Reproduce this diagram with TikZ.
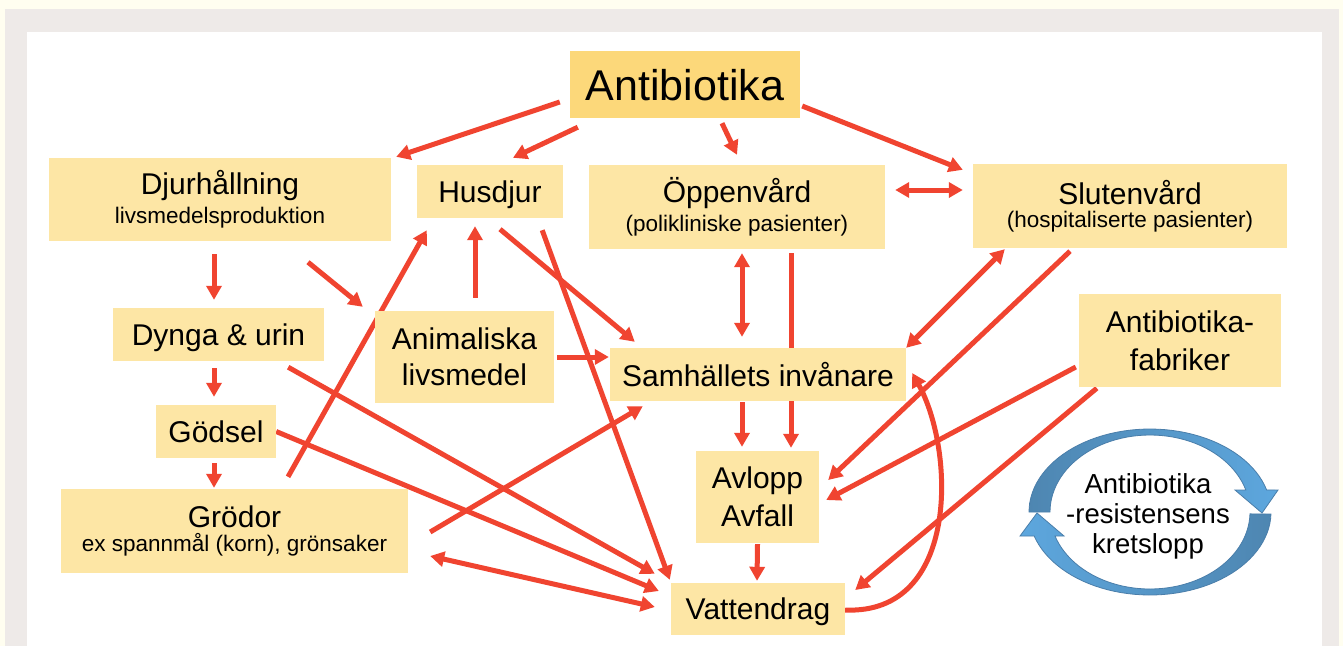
\documentclass[tikz,border=0pt]{standalone}
\usepackage{fontspec}
\setmainfont{Liberation Sans}
\usetikzlibrary{arrows.meta}
\definecolor{creambg}{HTML}{FFFEF0}
\definecolor{framegray}{HTML}{EEEAE8}
\definecolor{boxfill}{HTML}{FDE6A5}
\definecolor{antifill}{HTML}{FCD87A}
\definecolor{arrred}{HTML}{F04430}
\definecolor{cycdark}{HTML}{4E86B1}
\definecolor{cyclight}{HTML}{5DA7DE}
\definecolor{cycline}{HTML}{4A7EAA}
\newcommand\mytitle{\fontsize{30}{36}\selectfont}
\newcommand\mysub{\fontsize{22.5}{28}\selectfont}
\pgfdeclarelayer{bg}
\pgfsetlayers{bg,main}
\begin{document}
\begin{tikzpicture}[x=1pt,y=-1pt,
  box/.style={fill=boxfill, inner sep=0pt, align=center, text=black},
  onebox/.style={box, font=\mytitle, text depth=0pt},
  arr/.style={draw=arrred, line width=5pt, -{Triangle[length=14pt,width=15pt]}},
  darr/.style={arr, {Triangle[length=14pt,width=15pt]}-{Triangle[length=14pt,width=15pt]}},
  cyctext/.style={align=center, font=\fontsize{27.5}{30}\selectfont, inner sep=0pt}]
\useasboundingbox (0,0) rectangle (1343,646);

% nodes
\node[box, fill=antifill, minimum width=230pt, minimum height=67pt, font=\fontsize{43}{50}\selectfont, text depth=0pt] (anti) at (685,84.5) {Antibiotika};
\node[box, minimum width=342pt, minimum height=83pt] (djur) at (220,199.5) {{\mytitle Djurhållning}\\[5pt]{\mysub livsmedelsproduktion}};
\node[onebox, minimum width=146pt, minimum height=53pt] (hus) at (490,191.5) {Husdjur};
\node[box, minimum width=296pt, minimum height=84pt] (oppen) at (737,207) {{\mytitle Öppenvård}\\[5pt]{\mysub (polikliniske pasienter)}};
\node[box, minimum width=314pt, minimum height=84pt] (sluten) at (1130,206) {{\mytitle Slutenvård}\\[5pt]{\mysub (hospitaliserte pasienter)}};
\node[box, minimum width=202pt, minimum height=93pt, font=\fontsize{30}{38}\selectfont] (fabr) at (1180,340.5) {Antibiotika-\\fabriker};
\node[onebox, minimum width=211pt, minimum height=53pt] (dynga) at (218.5,334.5) {Dynga \& urin};
\node[box, minimum width=179pt, minimum height=92pt, font=\fontsize{30}{36}\selectfont] (anim) at (464.5,357) {Animaliska\\livsmedel};
\node[onebox, minimum width=296pt, minimum height=53pt] (samh) at (758,374.5) {Samhällets invånare};
\node[onebox, minimum width=120pt, minimum height=53pt] (godsel) at (216,431.5) {Gödsel};
\node[box, minimum width=347pt, minimum height=84pt] (grodor) at (234.5,531) {{\mytitle Grödor}\\[5pt]{\mysub ex spannmål (korn), grönsaker}};
\node[box, minimum width=123pt, minimum height=92pt, font=\fontsize{30}{38}\selectfont] (avlopp) at (757.5,497) {Avlopp\\Avfall};
\node[onebox, minimum width=174pt, minimum height=52pt] (vatten) at (758,609) {Vattendrag};

% cycle symbol
\shadedraw[left color=cycdark, right color=cyclight, draw=cycline, line width=0.8pt]
  plot[domain=180:15.4, samples=50] ({1150+121*cos(\x)},{512-83*sin(\x)})
  -- (1278,490) -- (1262,513) -- (1235,490)
  -- plot[domain=16.6:180, samples=50] ({1150+100*cos(\x)},{512-77*sin(\x)}) -- cycle;
\shadedraw[left color=cyclight, right color=cycdark, draw=cycline, line width=0.8pt]
  plot[domain=-1.4:-163.2, samples=50] ({1150+121*cos(\x)},{512-83*sin(\x)})
  -- (1020,536) -- (1037,513) -- (1064,536)
  -- plot[domain=-161.8:-1.4, samples=50] ({1150+100*cos(\x)},{512-77*sin(\x)}) -- cycle;
\node[cyctext] (cyc) at (1148,516) {Antibiotika\\-resistensens\\kretslopp};

\begin{pgfonlayer}{bg}
\fill[creambg] (0,0) rectangle (1343,646);
\fill[framegray] (5,9) rectangle (1339,646);
\fill[white] (27,32) rectangle (1322,646);

\draw[arr] ([shift={(-10,17.5)}]anti.west) -- ([shift={(5,-1)}]djur.north east);
\draw[arr] ([shift={(8,9)}]anti.south west) -- ([shift={(23,-7)}]hus.north);
\draw[arr] ([shift={(37,5)}]anti.south) -- ([shift={(0,-10)}]oppen.north);
\draw[arr] ([shift={(2,21.5)}]anti.east) -- ([shift={(-10,6)}]sluten.north west);
\draw[darr] ([shift={(10,-17)}]oppen.east) -- ([shift={(-10,-16)}]sluten.west);
\draw[arr] ([shift={(-6,13)}]djur.south) -- ([shift={(-4.5,-8)}]dynga.north);
\draw[arr] ([shift={(88,21)}]djur.south) -- ([shift={(-12,-4)}]anim.north west);
\draw[arr] ([shift={(-4.5,7)}]dynga.south) -- ([shift={(-2,-8)}]godsel.north);
\draw[arr] ([shift={(-2,5)}]godsel.south) -- ([shift={(-20.5,-1)}]grodor.north);
\draw[arr] ([shift={(10.5,-13)}]anim.north) -- ([shift={(-15,8)}]hus.south);
\draw[arr] ([shift={(53.5,-12)}]grodor.north) -- ([shift={(10,12)}]hus.south west);
\draw[arr] ([shift={(10,11)}]hus.south) -- ([shift={(25,-6)}]samh.north west);
\draw[arr] ([shift={(-21,12)}]hus.south east) -- ([shift={(-1,-3)}]vatten.north west);
\draw[arr] ([shift={(3,0)}]anim.east) -- ([shift={(-1,-17.5)}]samh.west);
\draw[arr] ([shift={(-36,6)}]dynga.south east) -- ([shift={(-16,-9)}]vatten.north west);
\draw[arr] (godsel.east) -- ([shift={(-12,-18)}]vatten.west);
\draw[darr] ([shift={(22,25)}]grodor.east) -- ([shift={(-16,-2)}]vatten.west);
\draw[arr] ([shift={(22,1)}]grodor.east) -- ([shift={(33,5)}]samh.south west);
\draw[darr] ([shift={(5,4)}]oppen.south) -- ([shift={(-16,-11)}]samh.north);
\draw[arr] ([shift={(54,4)}]oppen.south) -- ([shift={(33.5,-3)}]avlopp.north);
\draw[arr] ([shift={(-16,1)}]samh.south) -- ([shift={(-15.5,-4)}]avlopp.north);
\draw[darr] ([shift={(32,1)}]sluten.south west) -- (samh.north east);
\draw[arr] ([shift={(-60,3)}]sluten.south) -- ([shift={(9,-17)}]avlopp.east);
\draw[arr] ([shift={(-3,26.5)}]fabr.west) -- ([shift={(7,3)}]avlopp.east);
\draw[arr] ([shift={(18,1)}]fabr.south west) -- ([shift={(10,-19)}]vatten.east);
\draw[arr] ([shift={(0,1)}]avlopp.south) -- ([shift={(-1,-2)}]vatten.north);
\draw[arr] ([shift={(0,1)}]vatten.east) .. controls (960,615) and (955,450) .. ([shift={(6,-1.5)}]samh.east);
\end{pgfonlayer}
\end{tikzpicture}
\end{document}
